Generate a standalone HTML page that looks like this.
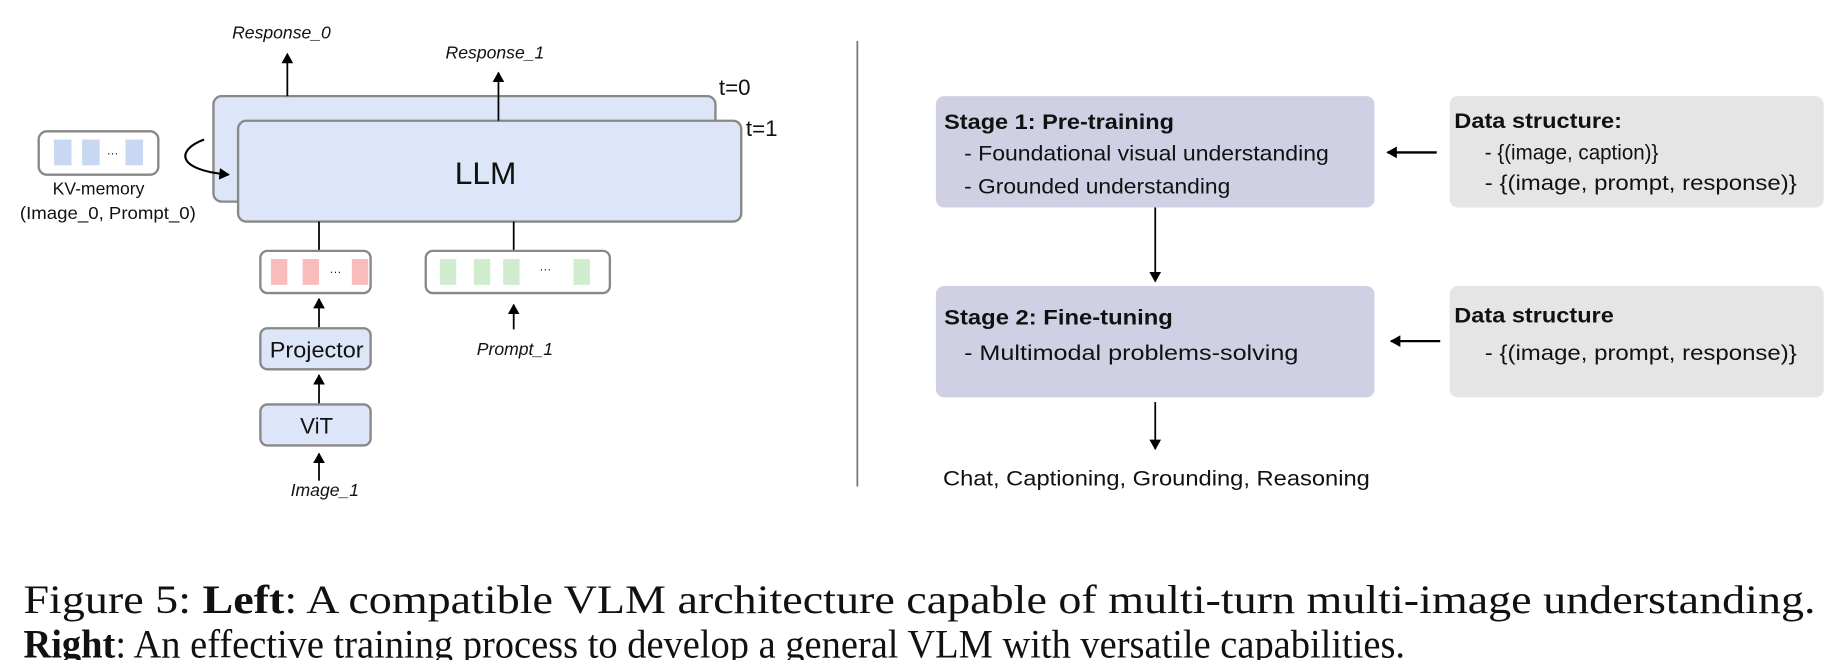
<!DOCTYPE html>
<html><head><meta charset="utf-8"><style>
html,body{margin:0;padding:0;background:#fff;width:1839px;height:660px;overflow:hidden}
svg{display:block}
text{font-family:"Liberation Sans",Arial,sans-serif;fill:#111}
.cap{font-family:"Liberation Serif","Times New Roman",serif;font-size:34px}
.it{font-size:15px;font-style:italic}
.r{font-size:18.5px}
</style></head><body>
<svg width="1839" height="660" viewBox="0 0 1568 563" preserveAspectRatio="none" xmlns="http://www.w3.org/2000/svg">
<defs>
<marker id="ah" markerWidth="10" markerHeight="10" refX="8" refY="5" orient="auto" markerUnits="userSpaceOnUse"><path d="M0,0 L9,5 L0,10 z" fill="#000"/></marker>
</defs>
<line x1="731" y1="35" x2="731" y2="415" stroke="#777" stroke-width="1.5"/>
<rect x="182" y="82" width="428" height="90" rx="7" fill="#dce6f8" stroke="#888" stroke-width="2"/>
<rect x="203" y="103" width="429" height="86" rx="7" fill="#dce6f8" stroke="#888" stroke-width="2"/>
<text x="414" y="157" font-size="27" text-anchor="middle">LLM</text>
<text x="613" y="81" font-size="19">t=0</text>
<text x="636" y="116" font-size="19">t=1</text>
<line x1="245" y1="82" x2="245" y2="46" stroke="#000" stroke-width="1.5" marker-end="url(#ah)"/>
<text class="it" x="240" y="33" text-anchor="middle">Response_0</text>
<line x1="425" y1="103" x2="425" y2="62" stroke="#000" stroke-width="1.5" marker-end="url(#ah)"/>
<text class="it" x="422" y="50" text-anchor="middle">Response_1</text>
<rect x="33" y="112" width="102" height="37" rx="7" fill="#fff" stroke="#888" stroke-width="2"/>
<rect x="46" y="119" width="15" height="22" fill="#c9d8f2"/>
<rect x="70" y="119" width="15" height="22" fill="#c9d8f2"/>
<rect x="107" y="119" width="15" height="22" fill="#c9d8f2"/>
<text x="96" y="134" font-size="10" fill="#aaa" text-anchor="middle">···</text>
<text x="84" y="166" font-size="15" text-anchor="middle">KV-memory</text>
<text x="92" y="187" font-size="15" text-anchor="middle" textLength="150" lengthAdjust="spacingAndGlyphs">(Image_0, Prompt_0)</text>
<path d="M174,119 C150,128 150,145 195,149" fill="none" stroke="#000" stroke-width="1.8" marker-end="url(#ah)"/>
<line x1="272" y1="189" x2="272" y2="214" stroke="#000" stroke-width="1.5"/>
<line x1="438" y1="189" x2="438" y2="214" stroke="#000" stroke-width="1.5"/>
<rect x="222" y="214" width="94" height="36" rx="6" fill="#fff" stroke="#888" stroke-width="2"/>
<rect x="231" y="221" width="14" height="22" fill="#f8bcbc"/>
<rect x="258" y="221" width="14" height="22" fill="#f8bcbc"/>
<rect x="300" y="221" width="14" height="22" fill="#f8bcbc"/>
<text x="286" y="235" font-size="10" fill="#aaa" text-anchor="middle">···</text>
<rect x="363" y="214" width="157" height="36" rx="6" fill="#fff" stroke="#888" stroke-width="2"/>
<rect x="375" y="221" width="14" height="22" fill="#cfeccf"/>
<rect x="404" y="221" width="14" height="22" fill="#cfeccf"/>
<rect x="429" y="221" width="14" height="22" fill="#cfeccf"/>
<rect x="489" y="221" width="14" height="22" fill="#cfeccf"/>
<text x="465" y="233" font-size="10" fill="#aaa" text-anchor="middle">···</text>
<line x1="272" y1="280" x2="272" y2="255" stroke="#000" stroke-width="1.5" marker-end="url(#ah)"/>
<rect x="222" y="280" width="94" height="35" rx="6" fill="#dce6f8" stroke="#888" stroke-width="2"/>
<text x="270" y="305" font-size="19" text-anchor="middle" textLength="80" lengthAdjust="spacingAndGlyphs">Projector</text>
<line x1="272" y1="345" x2="272" y2="320" stroke="#000" stroke-width="1.5" marker-end="url(#ah)"/>
<rect x="222" y="345" width="94" height="35" rx="6" fill="#dce6f8" stroke="#888" stroke-width="2"/>
<text x="270" y="370" font-size="19" text-anchor="middle">ViT</text>
<line x1="272" y1="410" x2="272" y2="387" stroke="#000" stroke-width="1.5" marker-end="url(#ah)"/>
<text class="it" x="277" y="423" text-anchor="middle">Image_1</text>
<line x1="438" y1="281" x2="438" y2="260" stroke="#000" stroke-width="1.5" marker-end="url(#ah)"/>
<text class="it" x="439" y="303" text-anchor="middle" font-size="16">Prompt_1</text>
<rect x="798" y="82" width="374" height="95" rx="7" fill="#cfd0e3"/>
<text class="r" x="805" y="110" font-weight="bold" textLength="196" lengthAdjust="spacingAndGlyphs">Stage 1: Pre-training</text>
<text class="r" x="822" y="137" textLength="311" lengthAdjust="spacingAndGlyphs">- Foundational visual understanding</text>
<text class="r" x="822" y="165" textLength="227" lengthAdjust="spacingAndGlyphs">- Grounded understanding</text>
<rect x="1236" y="82" width="319" height="95" rx="7" fill="#e5e5e5"/>
<text class="r" x="1240" y="109" font-weight="bold" textLength="143" lengthAdjust="spacingAndGlyphs">Data structure:</text>
<text class="r" x="1266" y="136" textLength="148" lengthAdjust="spacingAndGlyphs">- {(image, caption)}</text>
<text class="r" x="1266" y="162" textLength="266" lengthAdjust="spacingAndGlyphs">- {(image, prompt, response)}</text>
<line x1="1225" y1="130" x2="1183" y2="130" stroke="#000" stroke-width="2" marker-end="url(#ah)"/>
<line x1="985" y1="177" x2="985" y2="240" stroke="#000" stroke-width="1.5" marker-end="url(#ah)"/>
<rect x="798" y="244" width="374" height="95" rx="7" fill="#cfd0e3"/>
<text class="r" x="805" y="277" font-weight="bold" textLength="195" lengthAdjust="spacingAndGlyphs">Stage 2: Fine-tuning</text>
<text class="r" x="822" y="307" textLength="285" lengthAdjust="spacingAndGlyphs">- Multimodal problems-solving</text>
<rect x="1236" y="244" width="319" height="95" rx="7" fill="#e5e5e5"/>
<text class="r" x="1240" y="275" font-weight="bold" textLength="136" lengthAdjust="spacingAndGlyphs">Data structure</text>
<text class="r" x="1266" y="307" textLength="266" lengthAdjust="spacingAndGlyphs">- {(image, prompt, response)}</text>
<line x1="1228" y1="291" x2="1186" y2="291" stroke="#000" stroke-width="2" marker-end="url(#ah)"/>
<line x1="985" y1="343" x2="985" y2="383" stroke="#000" stroke-width="1.5" marker-end="url(#ah)"/>
<text class="r" x="804" y="414" textLength="364" lengthAdjust="spacingAndGlyphs">Chat, Captioning, Grounding, Reasoning</text>
<text class="cap" x="20" y="523" textLength="1528" lengthAdjust="spacingAndGlyphs">Figure 5: <tspan font-weight="bold">Left</tspan>: A compatible VLM architecture capable of multi-turn multi-image understanding.</text>
<text class="cap" x="20" y="561" textLength="1178" lengthAdjust="spacingAndGlyphs"><tspan font-weight="bold">Right</tspan>: An effective training process to develop a general VLM with versatile capabilities.</text>
</svg>
</body></html>
